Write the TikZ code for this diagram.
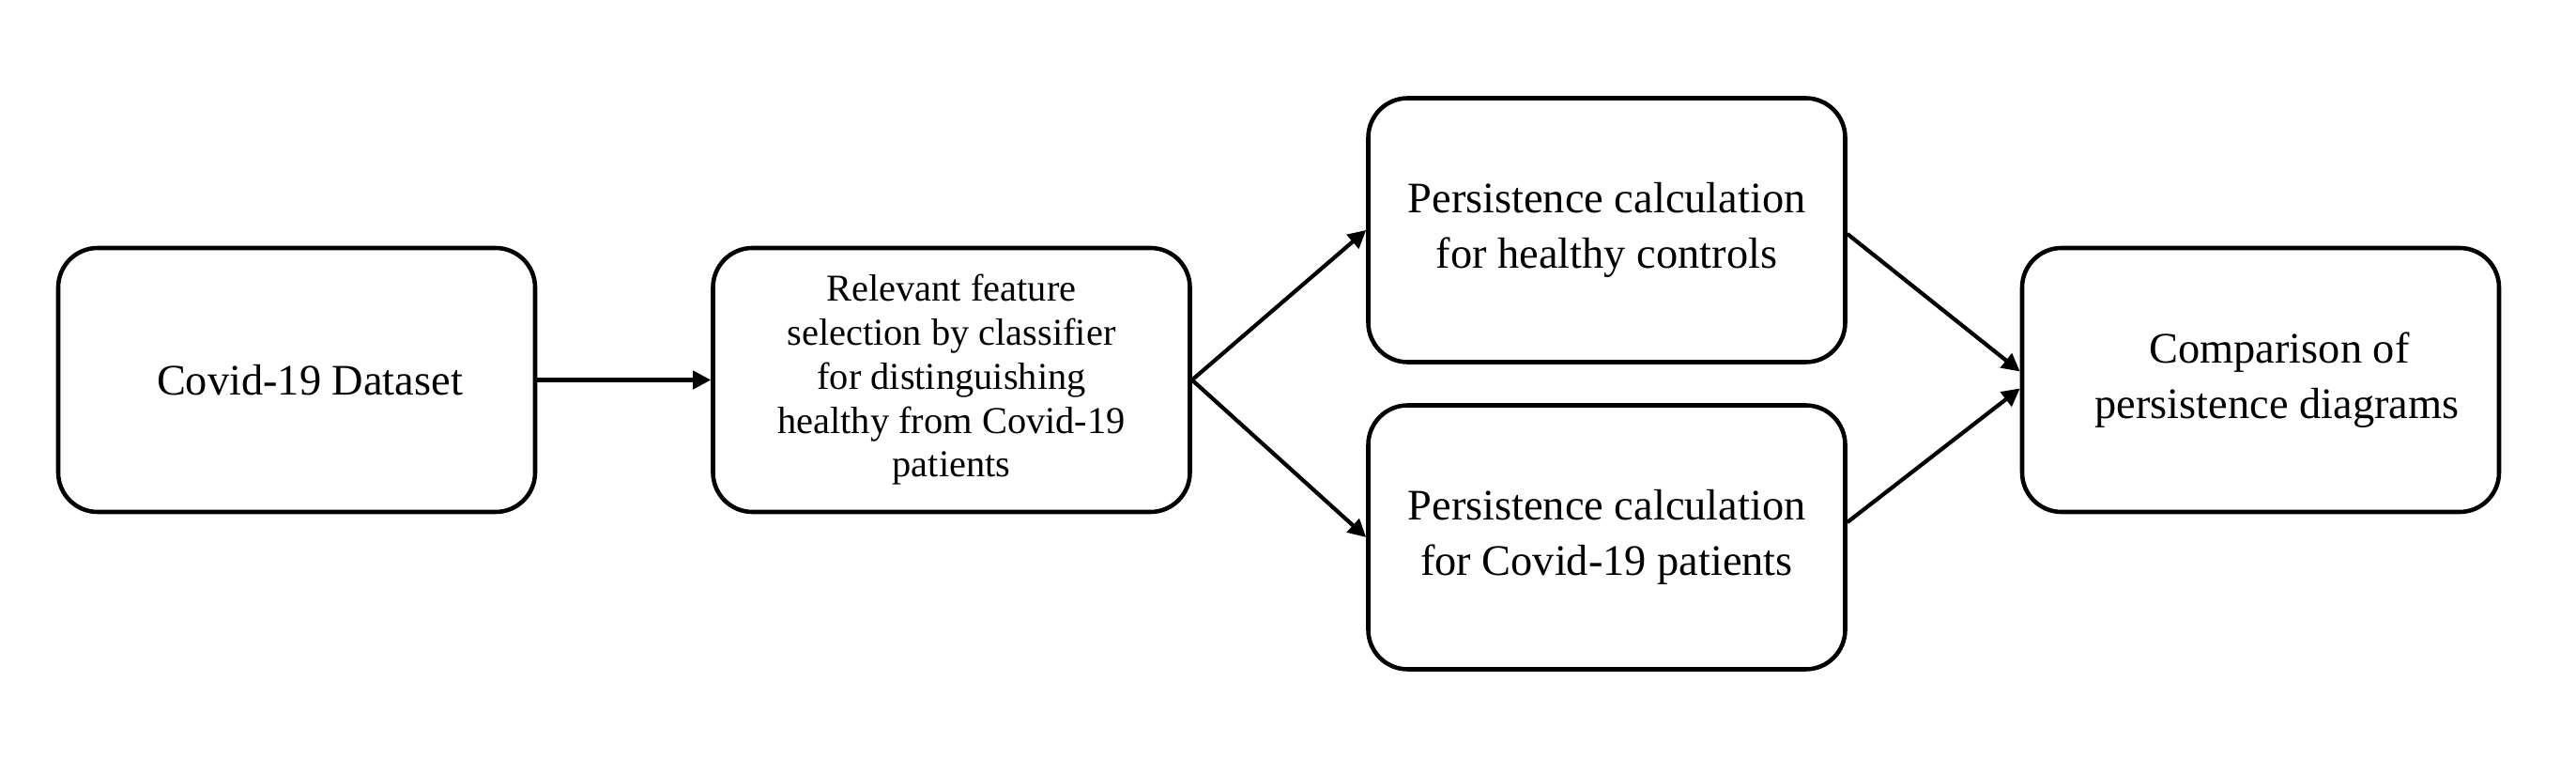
\documentclass[tikz,border=0pt]{standalone}
\usepackage{fontspec}
\setmainfont{Liberation Serif}
\usetikzlibrary{arrows.meta, positioning}
\tikzset{
  %% boxes: same outline everywhere, two text sizes
  etape/.style      = {draw=black, line width=1.3pt, rounded corners=0.42cm,
                       fill=white, align=center, minimum width=5.08cm,
                       minimum height=2.81cm, font=\fontsize{13.2}{16.9}\selectfont},
  etapeDense/.style = {etape, font=\fontsize{11.5}{13.3}\selectfont},
  %% arrows
  fleche/.style     = {-{Triangle[length=1.9mm, width=1.9mm]}, draw=black,
                       line width=1.2pt},
}
\begin{document}
\begin{tikzpicture}[x=1cm, y=1cm]
\useasboundingbox (0,0) rectangle (27.44, 8.08);

%% La chaine, de gauche a droite.
\node[etape] (data) at (3.16, 4.035) {\hspace*{0.28cm}Covid-19 Dataset};
\node[etapeDense] (feat) at (10.135, 4.035)
     {Relevant feature\\selection by classifier\\for distinguishing\\
      healthy from Covid-19\\patients};
\node[etape] (hc) at (17.115, 5.63)
     {Persistence calculation\\for healthy controls};
\node[etape] (pat) at (17.115, 2.36)
     {Persistence calculation\\for Covid-19 patients};
\node[etape] (cmp) at (24.08, 4.035)
     {\hspace*{0.4cm}Comparison of\\\hspace*{0.35cm}persistence diagrams};

\draw[fleche] (data) -- (feat);
\foreach \b in {hc, pat}
  \draw[fleche] (feat.east) -- (\b.west);
\draw[fleche] ([yshift=-0.04cm]hc.east) -- ([yshift=0.09cm]cmp.west);
\draw[fleche] ([yshift=0.16cm]pat.east) -- ([yshift=-0.09cm]cmp.west);

\end{tikzpicture}
\end{document}
